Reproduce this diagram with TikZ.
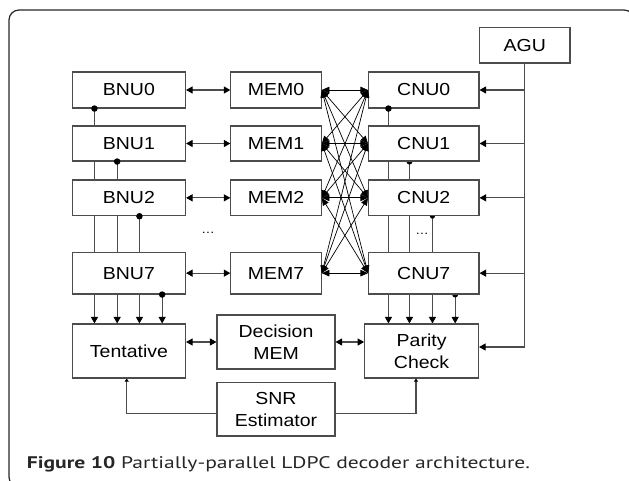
\documentclass[tikz,border=0pt]{standalone}
\usepackage{fontspec}
\usepackage{graphicx}
\setmainfont{Liberation Sans}
\newfontfamily\lblfont[FakeStretch=1.12]{Liberation Sans}
\newfontfamily\capfont{PT Sans}
\usetikzlibrary{arrows.meta,calc}
\pgfdeclarelayer{bg}
\pgfsetlayers{bg,main}
\tikzset{
  box/.style={draw=black!70, line width=1.1pt, fill=white, inner sep=0pt, align=center,
    font=\lblfont\fontsize{17.4}{21.7}\selectfont},
  bcol/.style={box, minimum width=113.2pt},
  mcol/.style={box, minimum width=90.4pt},
  ccol/.style={box, minimum width=110.5pt},
  wire/.style={draw=black!70, line width=1.1pt},
  tipd/.style={wire, -{Triangle[length=6.5pt,width=7pt,color=black]}},
  tipdd/.style={wire, {Triangle[length=6.5pt,width=7pt,color=black]}-{Triangle[length=6.5pt,width=7pt,color=black]}},
  xbar/.style={draw=black, line width=0.7pt, {Triangle[length=7.5pt,width=6.5pt]}-{Triangle[length=7.5pt,width=6.5pt]}},
  tips/.style={wire, -{Triangle[length=3pt,width=4pt,color=black]}},
  dotn/.style={circle, fill=black, inner sep=0pt, minimum size=6.5pt},
}
\begin{document}
\begin{tikzpicture}[x=1pt, y=-1pt]
\useasboundingbox (0,0) rectangle (629,481);
\begin{scope}
\clip (0,0) rectangle (629,481);
\draw[black!85, line width=1.2pt, rounded corners=10pt] (9,10) rectangle (634,487);
\end{scope}

% nodes
\node[bcol, minimum height=36pt]   (B0) at (128.9,90) {BNU0};
\node[bcol, minimum height=35pt]   (B1) at (128.9,143.5) {BNU1};
\node[bcol, minimum height=35.7pt] (B2) at (128.9,197.85) {BNU2};
\node[bcol, minimum height=41.7pt] (B7) at (128.9,273.15) {BNU7};
\node[mcol, minimum height=36pt]   (M0) at (276.1,90) {MEM0};
\node[mcol, minimum height=35pt]   (M1) at (276.1,143.5) {MEM1};
\node[mcol, minimum height=35.7pt] (M2) at (276.1,197.85) {MEM2};
\node[mcol, minimum height=41.7pt] (M7) at (276.1,273.15) {MEM7};
\node[ccol, minimum height=36pt]   (C0) at (423.75,90) {CNU0};
\node[ccol, minimum height=35pt]   (C1) at (423.75,143.5) {CNU1};
\node[ccol, minimum height=35.7pt] (C2) at (423.75,197.85) {CNU2};
\node[ccol, minimum height=41.7pt] (C7) at (423.75,273.15) {CNU7};
\node[box, minimum width=90.5pt, minimum height=35.7pt] (AGU) at (524.75,45.15) {AGU};
\node[box, minimum width=113.2pt, minimum height=54pt] (Tent) at (128.9,351) {Tentative};
\node[box, minimum width=118pt, minimum height=54pt] (Dec) at (276,342) {Decision\\MEM};
\node[box, minimum width=113.8pt, minimum height=54pt] (Par) at (421.6,351) {Parity\\Check};
\node[box, minimum width=118pt, minimum height=53.5pt] (SNR) at (276,409.25) {SNR\\Estimator};

\node[font=\lblfont\fontsize{12}{12}\selectfont, inner sep=0pt] (dotsA) at (208,233) {\ldots};
\node[font=\lblfont\fontsize{12}{12}\selectfont, inner sep=0pt] (dotsB) at (422,234) {\ldots};

% bus tap points
\coordinate (b0) at ([xshift=22.7pt]B0.south west);
\coordinate (b1) at ([xshift=45.4pt]B1.south west);
\coordinate (b2) at ([xshift=67.7pt]B2.south west);
\coordinate (b7) at ([xshift=90.4pt]B7.south west);
\coordinate (c0) at ([xshift=20.5pt]C0.south west);
\coordinate (c1) at ([xshift=41.5pt]C1.south west);
\coordinate (c2) at ([xshift=64.5pt]C2.south west);
\coordinate (c7) at ([xshift=87.2pt]C7.south west);

\begin{pgfonlayer}{bg}
  \foreach \p in {b0,b1,b2,b7} \draw[tipd] (\p) -- (\p |- Tent.north);
  \foreach \p in {c0,c1,c2,c7} \draw[tipd] (\p) -- (\p |- Par.north);
  \fill[black] (c1) circle (3pt);
  \fill[black] (c2) circle (2.5pt);
  \fill[black] (c7) circle (3pt);
\end{pgfonlayer}

\node[dotn] (db0) at (b0) {};
\node[dotn] (db1) at (b1) {};
\node[dotn] (db2) at (b2) {};
\node[dotn] (db7) at (b7) {};
\node[dotn] (dc0) at (c0) {};

% BNU <-> MEM
\foreach \i in {0,1,2,7} \draw[tipdd] (B\i.east) -- (M\i.west);
% crossbar
\foreach \i in {0,1,2,7} \foreach \j in {0,1,2,7} \draw[xbar] (M\i.east) -- (C\j.west);

% AGU
\draw[tipd] (AGU.south) |- ([yshift=4pt]Par.east);
\foreach \j in {0,1,2,7} \draw[tipd] (AGU.south |- C\j.east) -- (C\j.east);

% bottom row
\draw[tipdd] (Dec.west) -- (Dec.west -| Tent.east);
\draw[tipdd] (Dec.east) -- (Dec.east -| Par.west);
\draw[tips] ([yshift=-4.5pt]SNR.west) -| ([xshift=-2.2pt]Tent.south);
\draw[tips] ([yshift=-4.5pt]SNR.east) -| ([xshift=-5.6pt]Par.south);

\node[anchor=base west, inner sep=0pt, text=black!85] (cap) at (26.7,468.3) {\resizebox{503pt}{12pt}{\capfont\fontsize{15.5}{18}\selectfont\textbf{Figure 10} Partially-parallel LDPC decoder architecture.}};
\end{tikzpicture}
\end{document}
